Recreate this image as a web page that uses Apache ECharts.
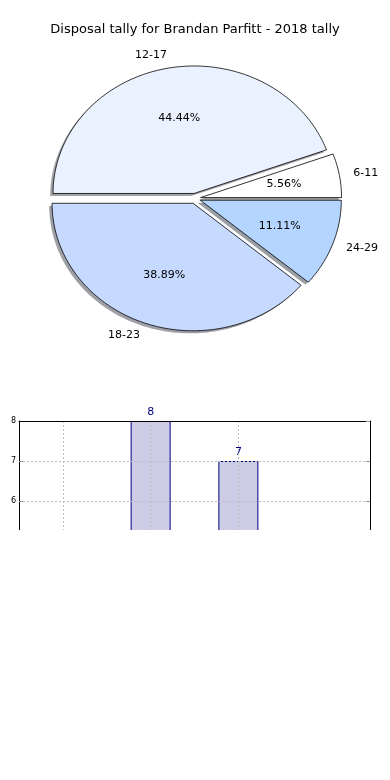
<!DOCTYPE html>
<html><head><meta charset="utf-8">
<script src="https://cdn.jsdelivr.net/npm/echarts@6/dist/echarts.min.js"></script>
<style>html,body{margin:0;padding:0;background:#fff;} #wrap{width:390px;height:530px;overflow:hidden;} #c{width:390px;height:780px;}</style>
</head><body><div id="wrap"><div id="c"></div></div>
<script>
const titleText = 'Disposal tally for Brandan Parfitt - 2018 tally';
const categories = ['6-11', '12-17', '18-23', '24-29'];
const disposals = [1, 8, 7, 2];
const sliceColors = ['#ffffff', '#eaf1ff', '#c6daff', '#b3d5ff'];
const yMin = 0, yMax = 8, yStep = 1;

const FONT = 'DejaVu Sans';
const total = disposals.reduce((a, b) => a + b, 0);
const EXPLODE = 0.04, LABEL_R = 1.1, PCT_R = 0.6, SH = -0.02;

function shadeOf(hex) {
  const r = parseInt(hex.slice(1, 3), 16), g = parseInt(hex.slice(3, 5), 16), b = parseInt(hex.slice(5, 7), 16);
  return 'rgba(' + Math.round(r * 0.3) + ',' + Math.round(g * 0.3) + ',' + Math.round(b * 0.3) + ',0.5)';
}

function geom(i) {
  let start = 0;
  for (let k = 0; k < i; k++) start += disposals[k];
  const a0 = start / total * 2 * Math.PI;
  const a1 = (start + disposals[i]) / total * 2 * Math.PI;
  const mid = (a0 + a1) / 2;
  return { a0, a1, mid, ox: EXPLODE * Math.cos(mid), oy: EXPLODE * Math.sin(mid) };
}

function wedgePoints(api, g, sx, sy) {
  const pts = [api.coord([g.ox + sx, g.oy + sy])];
  const n = Math.max(6, Math.ceil((g.a1 - g.a0) / (Math.PI / 180)));
  for (let j = 0; j <= n; j++) {
    const a = g.a0 + (g.a1 - g.a0) * j / n;
    pts.push(api.coord([g.ox + sx + Math.cos(a), g.oy + sy + Math.sin(a)]));
  }
  return pts;
}

function renderShadow(params, api) {
  const i = api.value(0);
  const g = geom(i);
  return {
    type: 'polygon',
    shape: { points: wedgePoints(api, g, SH, SH) },
    style: { fill: shadeOf(sliceColors[i]), stroke: null }
  };
}

function renderWedge(params, api) {
  const i = api.value(0);
  const g = geom(i);
  const pct = (disposals[i] / total * 100).toFixed(2) + '%';
  const pp = api.coord([g.ox + PCT_R * Math.cos(g.mid), g.oy + PCT_R * Math.sin(g.mid)]);
  const lp = api.coord([g.ox + LABEL_R * Math.cos(g.mid), g.oy + LABEL_R * Math.sin(g.mid)]);
  const align = Math.cos(g.mid) < 0 ? 'right' : 'left';
  return {
    type: 'group',
    children: [
      { type: 'polygon', shape: { points: wedgePoints(api, g, 0, 0) },
        style: { fill: sliceColors[i], stroke: '#000', lineWidth: 0.8 } },
      { type: 'text', x: pp[0], y: pp[1],
        style: { text: pct, fill: '#000', font: '11px "' + FONT + '"', align: 'center', verticalAlign: 'middle', textAlign: 'center', textVerticalAlign: 'middle' } },
      { type: 'text', x: lp[0], y: lp[1],
        style: { text: categories[i], fill: '#000', font: '11px "' + FONT + '"', align: align, verticalAlign: 'middle', textAlign: align, textVerticalAlign: 'middle' } }
    ]
  };
}

const gridLine = { show: true, showMaxLine: false, lineStyle: { color: '#bdbdbd', type: [2, 2], width: 1 } };
const pieData = disposals.map((v, i) => [i, v]);

const option = {
  animation: false,
  backgroundColor: '#fff',
  title: { text: titleText, left: 'center', top: 18, textStyle: { fontFamily: FONT, fontSize: 13, fontWeight: 'normal', color: '#000' } },
  grid: [
    { left: 54, top: 71, width: 282, height: 255 },
    { left: 19, top: 421, width: 351, height: 320 }
  ],
  xAxis: [
    { gridIndex: 0, type: 'value', min: -1, max: 1, show: false },
    { gridIndex: 1, type: 'category', data: categories, position: 'bottom', z: 3,
      axisLine: { onZero: false, lineStyle: { color: '#000', width: 1 } },
      axisTick: { inside: true, alignWithLabel: true, length: 4, lineStyle: { color: '#999' } },
      axisLabel: { fontFamily: FONT, fontSize: 8, color: '#000' },
      splitLine: Object.assign({ alignWithLabel: true }, gridLine) },
    { gridIndex: 1, type: 'category', data: categories, position: 'top', z: 4,
      axisLine: { onZero: false, lineStyle: { color: '#000', width: 1 } },
      axisTick: { inside: true, alignWithLabel: true, length: 4, lineStyle: { color: '#999' } },
      axisLabel: { show: false }, splitLine: { show: false } }
  ],
  yAxis: [
    { gridIndex: 0, type: 'value', min: -1, max: 1, show: false },
    { gridIndex: 1, type: 'value', min: yMin, max: yMax, interval: yStep, position: 'left', z: 3,
      axisLine: { show: true, onZero: false, lineStyle: { color: '#000', width: 1 } },
      axisTick: { show: true, inside: true, length: 4, lineStyle: { color: '#999' } },
      axisLabel: { fontFamily: FONT, fontSize: 8, color: '#000', margin: 3 },
      splitLine: gridLine },
    { gridIndex: 1, type: 'value', min: yMin, max: yMax, interval: yStep, position: 'right', z: 4,
      axisLine: { show: true, onZero: false, lineStyle: { color: '#000', width: 1 } },
      axisTick: { show: true, inside: true, length: 4, lineStyle: { color: '#999' } },
      axisLabel: { show: false }, splitLine: { show: false } }
  ],
  series: [
    { type: 'custom', xAxisIndex: 0, yAxisIndex: 0, z: 1, data: pieData, renderItem: renderShadow, silent: true },
    { type: 'custom', xAxisIndex: 0, yAxisIndex: 0, z: 2, data: pieData, renderItem: renderWedge, silent: true },
    { type: 'bar', xAxisIndex: 1, yAxisIndex: 1, data: disposals, barWidth: 40,
      itemStyle: { color: '#ccccE6', borderColor: '#00008b', borderWidth: 1 },
      label: { show: true, position: 'top', distance: 3, color: '#000080', fontFamily: FONT, fontSize: 11 } }
  ]
};
const chart = echarts.init(document.getElementById('c'), null, { renderer: 'canvas' });
chart.setOption(option);
</script></body></html>
